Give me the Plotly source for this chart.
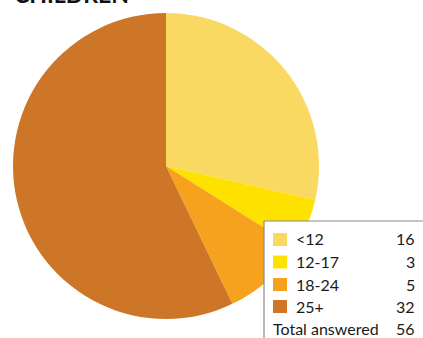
import plotly.graph_objects as go

W, H = 423, 338

labels = ['<12', '12-17', '18-24', '25+']
counts = [16, 3, 5, 32]
colors = ['#F9D962', '#FFE100', '#F7A21E', '#CE7628']
total_label = 'Total answered'


def px_x(x):
    return x / W


def px_y(y):
    return 1 - y / H


fig = go.Figure()
fig.add_trace(go.Pie(
    labels=labels, values=counts, sort=False, direction='clockwise', rotation=0,
    marker=dict(colors=colors, line=dict(width=0)),
    textinfo='none', hoverinfo='label+value', showlegend=False,
    domain=dict(x=[px_x(13), px_x(319)], y=[px_y(319), px_y(13)]),
))

# legend box (left and top border only)
shapes = [
    dict(type='rect', xref='paper', yref='paper', x0=px_x(264), x1=1.01, y0=-0.01, y1=px_y(221),
         fillcolor='white', line=dict(width=0), layer='above'),
    dict(type='line', xref='paper', yref='paper', x0=px_x(264), x1=1.01, y0=px_y(221), y1=px_y(221),
         line=dict(color='#8a8a8a', width=1.2)),
    dict(type='line', xref='paper', yref='paper', x0=px_x(264), x1=px_x(264), y0=-0.01, y1=px_y(221),
         line=dict(color='#8a8a8a', width=1.2)),
]
annotations = []
font = dict(family='Lato', size=16, color='#1a1a1a')
row_y = [239, 261.5, 284, 306]
for lab, n, c, y in zip(labels, counts, colors, row_y):
    shapes.append(dict(type='rect', xref='paper', yref='paper', x0=px_x(273), x1=px_x(287),
                       y0=px_y(y + 7), y1=px_y(y - 6), fillcolor=c, line=dict(width=0), layer='above'))
    annotations.append(dict(text=lab, x=px_x(294), y=px_y(y), xref='paper', yref='paper',
                            xanchor='left', yanchor='middle', showarrow=False, font=font))
    annotations.append(dict(text=str(n), x=px_x(417), y=px_y(y), xref='paper', yref='paper',
                            xanchor='right', yanchor='middle', showarrow=False, font=font))
annotations.append(dict(text=total_label, x=px_x(271), y=px_y(328), xref='paper', yref='paper',
                        xanchor='left', yanchor='middle', showarrow=False, font=font))
annotations.append(dict(text=str(sum(counts)), x=px_x(417), y=px_y(328), xref='paper', yref='paper',
                        xanchor='right', yanchor='middle', showarrow=False, font=font))

# title, mostly cropped at the top
annotations.append(dict(text='<b>CHILDREN</b>', x=px_x(12), y=px_y(10), xref='paper', yref='paper',
                        xanchor='left', yanchor='bottom', showarrow=False,
                        font=dict(family='Lato', size=23, color='#111111')))

fig.update_layout(width=W, height=H, margin=dict(l=0, r=0, t=0, b=0),
                  paper_bgcolor='white', plot_bgcolor='white',
                  shapes=shapes, annotations=annotations)
fig.write_html('out.html', config={'displayModeBar': False},
               post_script="document.body.style.margin='0';document.body.style.overflow='hidden';")
